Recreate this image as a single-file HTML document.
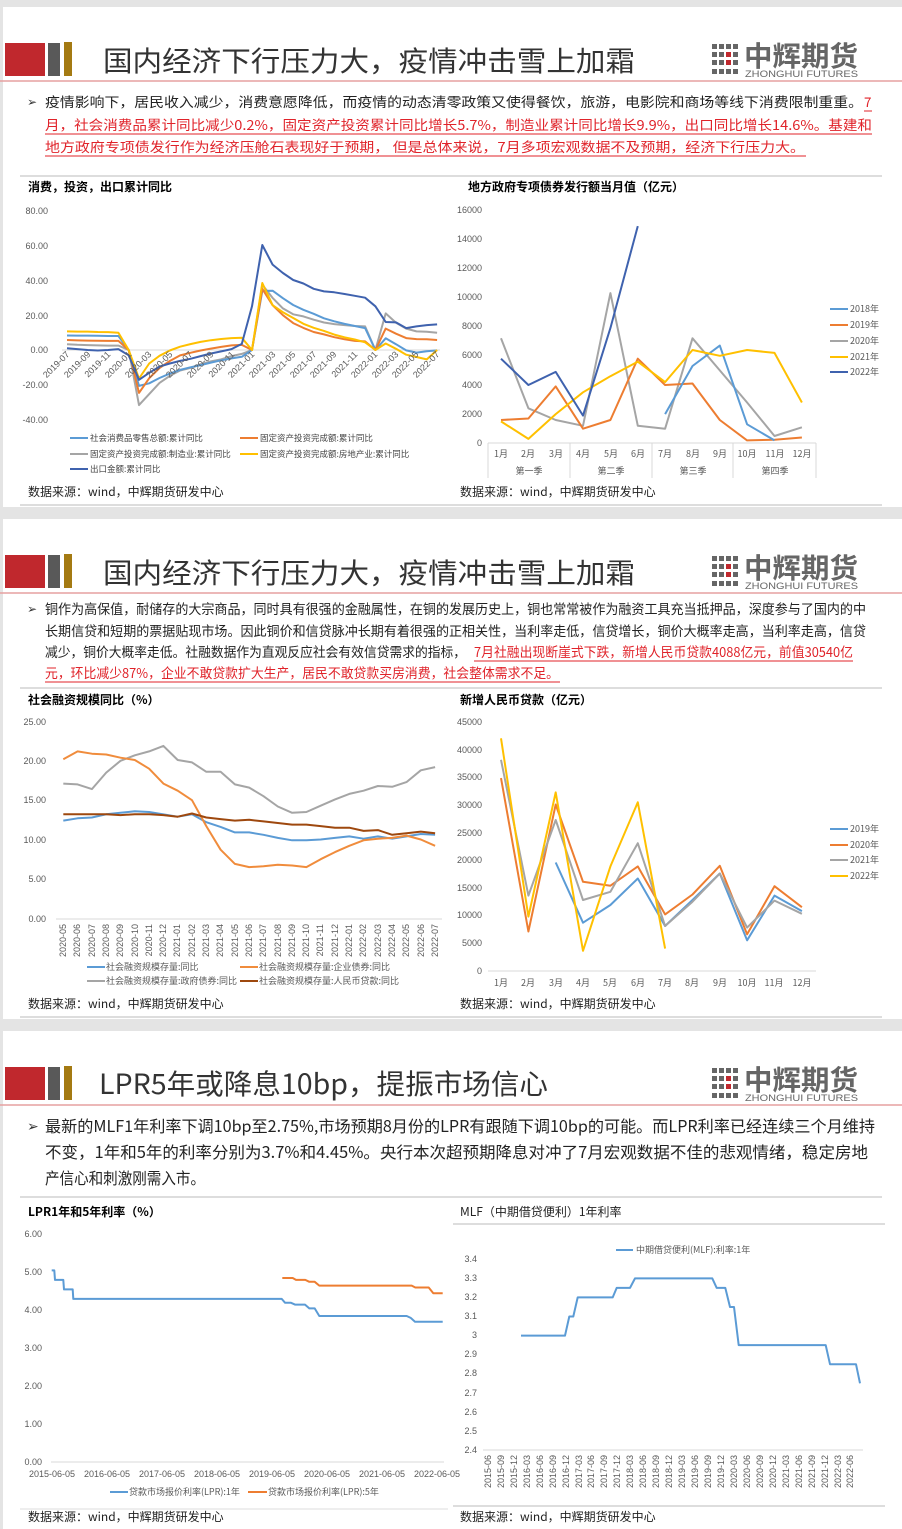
<!DOCTYPE html>
<html><head><meta charset="utf-8">
<style>
html,body{margin:0;padding:0;background:#e6e6e6;}
svg{display:block;}
text{font-family:"Liberation Sans","Noto Sans CJK SC",sans-serif;}
.cj{font-family:"Noto Sans CJK SC","WenQuanYi Zen Hei",sans-serif;}
.t{font-size:9px;fill:#595959;}
.ttl{font-size:12px;font-weight:bold;fill:#000;}
.src{font-size:12px;fill:#222;}
.bt{font-size:13.5px;fill:#222;}
.rd{fill:#e0232a;}
</style></head><body>
<svg id="s" width="902" height="1529" viewBox="0 0 902 1529" xmlns="http://www.w3.org/2000/svg">
<rect x="0" y="0" width="902" height="1529" fill="#e4e4e4"/>
<rect x="3" y="7" width="899" height="500" fill="#fff"/>
<rect x="3" y="519" width="899" height="500" fill="#fff"/>
<rect x="3" y="1031" width="899" height="498" fill="#fff"/>

<!-- headers -->
<g>
<rect x="5" y="43" width="40" height="33" fill="#c0282d"/>
<rect x="48" y="43" width="12" height="33" fill="#595959"/>
<rect x="64" y="42" width="8" height="34" fill="#a47a12"/>
<line x1="0" y1="81" x2="902" y2="81" stroke="#e6a0a0" stroke-width="1.5"/>
<rect x="712" y="44" width="5" height="5" fill="#666"/><rect x="719" y="44" width="5" height="5" fill="#666"/><rect x="726" y="44" width="5" height="5" fill="#666"/><rect x="733" y="44" width="5" height="5" fill="#666"/>
<rect x="712" y="52" width="5" height="5" fill="#666"/><rect x="719" y="52" width="5" height="5" fill="#666"/><rect x="726" y="52" width="5" height="5" fill="#c0282d"/><rect x="733" y="52" width="5" height="5" fill="#666"/>
<rect x="712" y="60" width="5" height="5" fill="#666"/><rect x="719" y="60" width="5" height="5" fill="#666"/><rect x="726" y="60" width="5" height="5" fill="#c0282d"/><rect x="733" y="60" width="5" height="5" fill="#666"/>
<rect x="712" y="69" width="5" height="5" fill="#666"/><rect x="719" y="69" width="5" height="5" fill="#666"/><rect x="726" y="69" width="5" height="5" fill="#666"/><rect x="733" y="69" width="5" height="5" fill="#666"/>
<text x="744" y="66" class="cj" font-size="28" font-weight="bold" fill="#666" textLength="114" lengthAdjust="spacingAndGlyphs">中辉期货</text>
<text x="745" y="77" font-size="9" fill="#666" textLength="113" lengthAdjust="spacingAndGlyphs">ZHONGHUI FUTURES</text>
</g>
<g transform="translate(0,512)">
<rect x="5" y="43" width="40" height="33" fill="#c0282d"/>
<rect x="48" y="43" width="12" height="33" fill="#595959"/>
<rect x="64" y="42" width="8" height="34" fill="#a47a12"/>
<line x1="0" y1="81" x2="902" y2="81" stroke="#e6a0a0" stroke-width="1.5"/>
<rect x="712" y="44" width="5" height="5" fill="#666"/><rect x="719" y="44" width="5" height="5" fill="#666"/><rect x="726" y="44" width="5" height="5" fill="#666"/><rect x="733" y="44" width="5" height="5" fill="#666"/>
<rect x="712" y="52" width="5" height="5" fill="#666"/><rect x="719" y="52" width="5" height="5" fill="#666"/><rect x="726" y="52" width="5" height="5" fill="#c0282d"/><rect x="733" y="52" width="5" height="5" fill="#666"/>
<rect x="712" y="60" width="5" height="5" fill="#666"/><rect x="719" y="60" width="5" height="5" fill="#666"/><rect x="726" y="60" width="5" height="5" fill="#c0282d"/><rect x="733" y="60" width="5" height="5" fill="#666"/>
<rect x="712" y="69" width="5" height="5" fill="#666"/><rect x="719" y="69" width="5" height="5" fill="#666"/><rect x="726" y="69" width="5" height="5" fill="#666"/><rect x="733" y="69" width="5" height="5" fill="#666"/>
<text x="744" y="66" class="cj" font-size="28" font-weight="bold" fill="#666" textLength="114" lengthAdjust="spacingAndGlyphs">中辉期货</text>
<text x="745" y="77" font-size="9" fill="#666" textLength="113" lengthAdjust="spacingAndGlyphs">ZHONGHUI FUTURES</text>
</g>
<g transform="translate(0,1024)">
<rect x="5" y="43" width="40" height="33" fill="#c0282d"/>
<rect x="48" y="43" width="12" height="33" fill="#595959"/>
<rect x="64" y="42" width="8" height="34" fill="#a47a12"/>
<line x1="0" y1="81" x2="902" y2="81" stroke="#e6a0a0" stroke-width="1.5"/>
<rect x="712" y="44" width="5" height="5" fill="#666"/><rect x="719" y="44" width="5" height="5" fill="#666"/><rect x="726" y="44" width="5" height="5" fill="#666"/><rect x="733" y="44" width="5" height="5" fill="#666"/>
<rect x="712" y="52" width="5" height="5" fill="#666"/><rect x="719" y="52" width="5" height="5" fill="#666"/><rect x="726" y="52" width="5" height="5" fill="#c0282d"/><rect x="733" y="52" width="5" height="5" fill="#666"/>
<rect x="712" y="60" width="5" height="5" fill="#666"/><rect x="719" y="60" width="5" height="5" fill="#666"/><rect x="726" y="60" width="5" height="5" fill="#c0282d"/><rect x="733" y="60" width="5" height="5" fill="#666"/>
<rect x="712" y="69" width="5" height="5" fill="#666"/><rect x="719" y="69" width="5" height="5" fill="#666"/><rect x="726" y="69" width="5" height="5" fill="#666"/><rect x="733" y="69" width="5" height="5" fill="#666"/>
<text x="744" y="66" class="cj" font-size="28" font-weight="bold" fill="#666" textLength="114" lengthAdjust="spacingAndGlyphs">中辉期货</text>
<text x="745" y="77" font-size="9" fill="#666" textLength="113" lengthAdjust="spacingAndGlyphs">ZHONGHUI FUTURES</text>
</g>

<text x="103" y="71" class="cj" font-size="28" fill="#333" textLength="532" lengthAdjust="spacingAndGlyphs">国内经济下行压力大，疫情冲击雪上加霜</text>
<text x="103" y="583" class="cj" font-size="28" fill="#333" textLength="532" lengthAdjust="spacingAndGlyphs">国内经济下行压力大，疫情冲击雪上加霜</text>
<text x="99" y="1094" class="cj" font-size="28" fill="#333" textLength="449" lengthAdjust="spacingAndGlyphs">LPR5年或降息10bp，提振市场信心</text>

<!-- slide 1 text -->
<text x="27" y="106" font-size="12" fill="#333">➢</text>
<text x="45" y="107" class="bt cj" textLength="818" lengthAdjust="spacingAndGlyphs">疫情影响下，居民收入减少，消费意愿降低，而疫情的动态清零政策又使得餐饮，旅游，电影院和商场等线下消费限制重重。</text>
<text x="864" y="107" class="bt cj rd">7</text>
<text x="45" y="130" class="bt cj rd" textLength="827" lengthAdjust="spacingAndGlyphs">月，社会消费品累计同比减少0.2%，固定资产投资累计同比增长5.7%，制造业累计同比增长9.9%，出口同比增长14.6%。基建和</text>
<text x="45" y="152" class="bt cj rd" textLength="760" lengthAdjust="spacingAndGlyphs">地方政府专项债发行作为经济压舱石表现好于预期， 但是总体来说，7月多项宏观数据不及预期，经济下行压力大。</text>
<line x1="864" y1="111" x2="872" y2="111" stroke="#e0232a"/>
<line x1="45" y1="134" x2="872" y2="134" stroke="#e0232a"/>
<line x1="45" y1="156" x2="806" y2="156" stroke="#e0232a"/>
<line x1="20" y1="176" x2="882" y2="176" stroke="#bbb"/>
<text x="28" y="191" class="ttl cj">消费，投资，出口累计同比</text>
<text x="468" y="191" class="ttl cj">地方政府专项债券发行额当月值（亿元）</text>
<text x="28" y="496" class="src cj">数据来源：wind，中辉期货研发中心</text>
<text x="460" y="496" class="src cj">数据来源：wind，中辉期货研发中心</text>
<line x1="20" y1="505" x2="882" y2="505" stroke="#bbb"/>

<!-- chart1 axes -->
<g>
<text x="48" y="214" text-anchor="end" class="t">80.00</text>
<text x="48" y="249" text-anchor="end" class="t">60.00</text>
<text x="48" y="284" text-anchor="end" class="t">40.00</text>
<text x="48" y="319" text-anchor="end" class="t">20.00</text>
<text x="48" y="353" text-anchor="end" class="t">0.00</text>
<text x="48" y="388" text-anchor="end" class="t">-20.00</text>
<text x="48" y="423" text-anchor="end" class="t">-40.00</text>
</g>
<line x1="62" y1="350" x2="440" y2="350" stroke="#d9d9d9"/>
<g>
<line x1="70" y1="438" x2="88" y2="438" stroke="#5B9BD5" stroke-width="2"/><text x="90" y="441" class="cj" font-size="8.5" fill="#444">社会消费品零售总额:累计同比</text>
<line x1="240" y1="438" x2="258" y2="438" stroke="#ED7D31" stroke-width="2"/><text x="260" y="441" class="cj" font-size="8.5" fill="#444">固定资产投资完成额:累计同比</text>
<line x1="70" y1="454" x2="88" y2="454" stroke="#A5A5A5" stroke-width="2"/><text x="90" y="457" class="cj" font-size="8.5" fill="#444">固定资产投资完成额:制造业:累计同比</text>
<line x1="240" y1="454" x2="258" y2="454" stroke="#FFC000" stroke-width="2"/><text x="260" y="457" class="cj" font-size="8.5" fill="#444">固定资产投资完成额:房地产业:累计同比</text>
<line x1="70" y1="469" x2="88" y2="469" stroke="#3F62AE" stroke-width="2"/><text x="90" y="472" class="cj" font-size="8.5" fill="#444">出口金额:累计同比</text>
</g>
<g id="c1"></g>

<!-- chart2 -->
<g>
<text x="482" y="213" text-anchor="end" class="t">16000</text>
<text x="482" y="242" text-anchor="end" class="t">14000</text>
<text x="482" y="271" text-anchor="end" class="t">12000</text>
<text x="482" y="300" text-anchor="end" class="t">10000</text>
<text x="482" y="329" text-anchor="end" class="t">8000</text>
<text x="482" y="358" text-anchor="end" class="t">6000</text>
<text x="482" y="388" text-anchor="end" class="t">4000</text>
<text x="482" y="417" text-anchor="end" class="t">2000</text>
<text x="482" y="446" text-anchor="end" class="t">0</text>
</g>
<line x1="488" y1="443" x2="816" y2="443" stroke="#d9d9d9"/>
<g stroke="#d9d9d9"><line x1="488" y1="443" x2="488" y2="478"/><line x1="570" y1="443" x2="570" y2="478"/><line x1="652" y1="443" x2="652" y2="478"/><line x1="733" y1="443" x2="733" y2="478"/><line x1="816" y1="443" x2="816" y2="478"/></g>
<g>
<text x="501" y="457" class="cj t" text-anchor="middle">1月</text><text x="528" y="457" class="cj t" text-anchor="middle">2月</text><text x="556" y="457" class="cj t" text-anchor="middle">3月</text>
<text x="583" y="457" class="cj t" text-anchor="middle">4月</text><text x="611" y="457" class="cj t" text-anchor="middle">5月</text><text x="638" y="457" class="cj t" text-anchor="middle">6月</text>
<text x="665" y="457" class="cj t" text-anchor="middle">7月</text><text x="693" y="457" class="cj t" text-anchor="middle">8月</text><text x="720" y="457" class="cj t" text-anchor="middle">9月</text>
<text x="747" y="457" class="cj t" text-anchor="middle">10月</text><text x="775" y="457" class="cj t" text-anchor="middle">11月</text><text x="802" y="457" class="cj t" text-anchor="middle">12月</text>
<text x="529" y="474" class="cj t" text-anchor="middle">第一季</text><text x="611" y="474" class="cj t" text-anchor="middle">第二季</text><text x="693" y="474" class="cj t" text-anchor="middle">第三季</text><text x="775" y="474" class="cj t" text-anchor="middle">第四季</text>
</g>
<g>
<line x1="830" y1="309" x2="848" y2="309" stroke="#5B9BD5" stroke-width="2"/><text x="850" y="312" class="cj t" font-size="8.5">2018年</text>
<line x1="830" y1="325" x2="848" y2="325" stroke="#ED7D31" stroke-width="2"/><text x="850" y="328" class="cj t" font-size="8.5">2019年</text>
<line x1="830" y1="341" x2="848" y2="341" stroke="#A5A5A5" stroke-width="2"/><text x="850" y="344" class="cj t" font-size="8.5">2020年</text>
<line x1="830" y1="357" x2="848" y2="357" stroke="#FFC000" stroke-width="2"/><text x="850" y="360" class="cj t" font-size="8.5">2021年</text>
<line x1="830" y1="372" x2="848" y2="372" stroke="#3F62AE" stroke-width="2"/><text x="850" y="375" class="cj t" font-size="8.5">2022年</text>
</g>
<g id="c2"></g>

<!-- slide 2 text -->
<text x="27" y="613" font-size="12" fill="#333">➢</text>
<text x="45" y="614" class="bt cj" textLength="821" lengthAdjust="spacingAndGlyphs">铜作为高保值，耐储存的大宗商品，同时具有很强的金融属性，在铜的发展历史上，铜也常常被作为融资工具充当抵押品，深度参与了国内的中</text>
<text x="45" y="636" class="bt cj" textLength="821" lengthAdjust="spacingAndGlyphs">长期信贷和短期的票据贴现市场。因此铜价和信贷脉冲长期有着很强的正相关性，当利率走低，信贷增长，铜价大概率走高，当利率走高，信贷</text>
<text x="45" y="657" class="bt cj" textLength="421" lengthAdjust="spacingAndGlyphs">减少，铜价大概率走低。社融数据作为直观反应社会有效信贷需求的指标，</text>
<text x="474" y="657" class="bt cj rd" textLength="379" lengthAdjust="spacingAndGlyphs">7月社融出现断崖式下跌，新增人民币贷款4088亿元，前值30540亿</text>
<text x="45" y="678" class="bt cj rd" textLength="514" lengthAdjust="spacingAndGlyphs">元，环比减少87%，企业不敢贷款扩大生产，居民不敢贷款买房消费，社会整体需求不足。</text>
<line x1="474" y1="661" x2="853" y2="661" stroke="#e0232a"/>
<line x1="45" y1="682" x2="560" y2="682" stroke="#e0232a"/>
<line x1="20" y1="688" x2="882" y2="688" stroke="#bbb"/>
<text x="28" y="704" class="ttl cj">社会融资规模同比（%）</text>
<text x="460" y="704" class="ttl cj">新增人民币贷款（亿元）</text>
<text x="28" y="1008" class="src cj">数据来源：wind，中辉期货研发中心</text>
<text x="460" y="1008" class="src cj">数据来源：wind，中辉期货研发中心</text>
<line x1="20" y1="1017" x2="882" y2="1017" stroke="#bbb"/>

<!-- chart3 -->
<g>
<text x="46" y="725" text-anchor="end" class="t">25.00</text>
<text x="46" y="764" text-anchor="end" class="t">20.00</text>
<text x="46" y="803" text-anchor="end" class="t">15.00</text>
<text x="46" y="843" text-anchor="end" class="t">10.00</text>
<text x="46" y="882" text-anchor="end" class="t">5.00</text>
<text x="46" y="922" text-anchor="end" class="t">0.00</text>
</g>
<line x1="56" y1="919" x2="442" y2="919" stroke="#d9d9d9"/>
<g>
<line x1="87" y1="967" x2="105" y2="967" stroke="#5B9BD5" stroke-width="2"/><text x="106" y="970" class="cj t" font-size="8.5">社会融资规模存量:同比</text>
<line x1="240" y1="967" x2="258" y2="967" stroke="#F08C3C" stroke-width="2"/><text x="259" y="970" class="cj t" font-size="8.5">社会融资规模存量:企业债券:同比</text>
<line x1="87" y1="981" x2="105" y2="981" stroke="#A5A5A5" stroke-width="2"/><text x="106" y="984" class="cj t" font-size="8.5">社会融资规模存量:政府债券:同比</text>
<line x1="240" y1="981" x2="258" y2="981" stroke="#9E480E" stroke-width="2"/><text x="259" y="984" class="cj t" font-size="8.5">社会融资规模存量:人民币贷款:同比</text>
</g>
<g id="c3"></g>

<!-- chart4 -->
<g>
<text x="482" y="725" text-anchor="end" class="t">45000</text>
<text x="482" y="753" text-anchor="end" class="t">40000</text>
<text x="482" y="780" text-anchor="end" class="t">35000</text>
<text x="482" y="808" text-anchor="end" class="t">30000</text>
<text x="482" y="836" text-anchor="end" class="t">25000</text>
<text x="482" y="863" text-anchor="end" class="t">20000</text>
<text x="482" y="891" text-anchor="end" class="t">15000</text>
<text x="482" y="918" text-anchor="end" class="t">10000</text>
<text x="482" y="946" text-anchor="end" class="t">5000</text>
<text x="482" y="974" text-anchor="end" class="t">0</text>
</g>
<line x1="488" y1="971" x2="816" y2="971" stroke="#d9d9d9"/>
<g>
<text x="501" y="986" class="cj t" text-anchor="middle">1月</text><text x="528" y="986" class="cj t" text-anchor="middle">2月</text><text x="556" y="986" class="cj t" text-anchor="middle">3月</text>
<text x="583" y="986" class="cj t" text-anchor="middle">4月</text><text x="610" y="986" class="cj t" text-anchor="middle">5月</text><text x="638" y="986" class="cj t" text-anchor="middle">6月</text>
<text x="665" y="986" class="cj t" text-anchor="middle">7月</text><text x="692" y="986" class="cj t" text-anchor="middle">8月</text><text x="720" y="986" class="cj t" text-anchor="middle">9月</text>
<text x="747" y="986" class="cj t" text-anchor="middle">10月</text><text x="774" y="986" class="cj t" text-anchor="middle">11月</text><text x="802" y="986" class="cj t" text-anchor="middle">12月</text>
</g>
<g>
<line x1="830" y1="829" x2="848" y2="829" stroke="#5B9BD5" stroke-width="2"/><text x="850" y="832" class="cj t" font-size="8.5">2019年</text>
<line x1="830" y1="845" x2="848" y2="845" stroke="#ED7D31" stroke-width="2"/><text x="850" y="848" class="cj t" font-size="8.5">2020年</text>
<line x1="830" y1="860" x2="848" y2="860" stroke="#A5A5A5" stroke-width="2"/><text x="850" y="863" class="cj t" font-size="8.5">2021年</text>
<line x1="830" y1="876" x2="848" y2="876" stroke="#FFC000" stroke-width="2"/><text x="850" y="879" class="cj t" font-size="8.5">2022年</text>
</g>
<g id="c4"></g>

<!-- slide 3 text -->
<text x="27" y="1131" font-size="14" fill="#333">➢</text>
<text x="45" y="1132" class="cj" font-size="16" fill="#222" textLength="830" lengthAdjust="spacingAndGlyphs">最新的MLF1年利率下调10bp至2.75%,市场预期8月份的LPR有跟随下调10bp的可能。而LPR利率已经连续三个月维持</text>
<text x="45" y="1158" class="cj" font-size="16" fill="#222" textLength="823" lengthAdjust="spacingAndGlyphs">不变，1年和5年的利率分别为3.7%和4.45%。央行本次超预期降息对冲了7月宏观数据不佳的悲观情绪，稳定房地</text>
<text x="45" y="1184" class="cj" font-size="16" fill="#222" textLength="160" lengthAdjust="spacingAndGlyphs">产信心和刺激刚需入市。</text>
<line x1="20" y1="1197" x2="882" y2="1197" stroke="#bbb"/>
<text x="28" y="1216" class="ttl cj">LPR1年和5年利率（%）</text>
<text x="460" y="1216" class="cj" font-size="12" fill="#222">MLF（中期借贷便利）1年利率</text>
<line x1="453" y1="1224" x2="885" y2="1224" stroke="#bbb"/>
<text x="28" y="1521" class="src cj">数据来源：wind，中辉期货研发中心</text>
<text x="460" y="1521" class="src cj">数据来源：wind，中辉期货研发中心</text>
<line x1="453" y1="1506" x2="885" y2="1506" stroke="#bbb"/>
<line x1="20" y1="1509" x2="448" y2="1509" stroke="#ddd"/>

<!-- chart5 -->
<g>
<text x="42" y="1237" text-anchor="end" class="t">6.00</text>
<text x="42" y="1275" text-anchor="end" class="t">5.00</text>
<text x="42" y="1313" text-anchor="end" class="t">4.00</text>
<text x="42" y="1351" text-anchor="end" class="t">3.00</text>
<text x="42" y="1389" text-anchor="end" class="t">2.00</text>
<text x="42" y="1427" text-anchor="end" class="t">1.00</text>
<text x="42" y="1465" text-anchor="end" class="t">0.00</text>
</g>
<line x1="51" y1="1462" x2="444" y2="1462" stroke="#d9d9d9"/>
<g>
<text x="52" y="1477" class="t" text-anchor="middle">2015-06-05</text>
<text x="107" y="1477" class="t" text-anchor="middle">2016-06-05</text>
<text x="162" y="1477" class="t" text-anchor="middle">2017-06-05</text>
<text x="217" y="1477" class="t" text-anchor="middle">2018-06-05</text>
<text x="272" y="1477" class="t" text-anchor="middle">2019-06-05</text>
<text x="327" y="1477" class="t" text-anchor="middle">2020-06-05</text>
<text x="382" y="1477" class="t" text-anchor="middle">2021-06-05</text>
<text x="437" y="1477" class="t" text-anchor="middle">2022-06-05</text>
</g>
<g>
<line x1="110" y1="1492" x2="128" y2="1492" stroke="#5B9BD5" stroke-width="2"/><text x="129" y="1495" class="cj t" font-size="8.5">贷款市场报价利率(LPR):1年</text>
<line x1="248" y1="1492" x2="267" y2="1492" stroke="#ED7D31" stroke-width="2"/><text x="268" y="1495" class="cj t" font-size="8.5">贷款市场报价利率(LPR):5年</text>
</g>
<g id="c5"></g>

<!-- chart6 -->
<g>
<text x="477" y="1262" text-anchor="end" class="t" font-size="8.5">3.4</text>
<text x="477" y="1281" text-anchor="end" class="t" font-size="8.5">3.3</text>
<text x="477" y="1300" text-anchor="end" class="t" font-size="8.5">3.2</text>
<text x="477" y="1319" text-anchor="end" class="t" font-size="8.5">3.1</text>
<text x="477" y="1338" text-anchor="end" class="t" font-size="8.5">3</text>
<text x="477" y="1357" text-anchor="end" class="t" font-size="8.5">2.9</text>
<text x="477" y="1376" text-anchor="end" class="t" font-size="8.5">2.8</text>
<text x="477" y="1396" text-anchor="end" class="t" font-size="8.5">2.7</text>
<text x="477" y="1415" text-anchor="end" class="t" font-size="8.5">2.6</text>
<text x="477" y="1434" text-anchor="end" class="t" font-size="8.5">2.5</text>
<text x="477" y="1453" text-anchor="end" class="t" font-size="8.5">2.4</text>
</g>
<line x1="483" y1="1450" x2="863" y2="1450" stroke="#d9d9d9"/>
<g>
<text transform="translate(491,1455) rotate(-90)" text-anchor="end" class="t" font-size="8">2015-06</text>
<text transform="translate(504,1455) rotate(-90)" text-anchor="end" class="t" font-size="8">2015-09</text>
<text transform="translate(517,1455) rotate(-90)" text-anchor="end" class="t" font-size="8">2015-12</text>
<text transform="translate(530,1455) rotate(-90)" text-anchor="end" class="t" font-size="8">2016-03</text>
<text transform="translate(543,1455) rotate(-90)" text-anchor="end" class="t" font-size="8">2016-06</text>
<text transform="translate(556,1455) rotate(-90)" text-anchor="end" class="t" font-size="8">2016-09</text>
<text transform="translate(569,1455) rotate(-90)" text-anchor="end" class="t" font-size="8">2016-12</text>
<text transform="translate(582,1455) rotate(-90)" text-anchor="end" class="t" font-size="8">2017-03</text>
<text transform="translate(594,1455) rotate(-90)" text-anchor="end" class="t" font-size="8">2017-06</text>
<text transform="translate(607,1455) rotate(-90)" text-anchor="end" class="t" font-size="8">2017-09</text>
<text transform="translate(620,1455) rotate(-90)" text-anchor="end" class="t" font-size="8">2017-12</text>
<text transform="translate(633,1455) rotate(-90)" text-anchor="end" class="t" font-size="8">2018-03</text>
<text transform="translate(646,1455) rotate(-90)" text-anchor="end" class="t" font-size="8">2018-06</text>
<text transform="translate(659,1455) rotate(-90)" text-anchor="end" class="t" font-size="8">2018-09</text>
<text transform="translate(672,1455) rotate(-90)" text-anchor="end" class="t" font-size="8">2018-12</text>
<text transform="translate(685,1455) rotate(-90)" text-anchor="end" class="t" font-size="8">2019-03</text>
<text transform="translate(698,1455) rotate(-90)" text-anchor="end" class="t" font-size="8">2019-06</text>
<text transform="translate(711,1455) rotate(-90)" text-anchor="end" class="t" font-size="8">2019-09</text>
<text transform="translate(724,1455) rotate(-90)" text-anchor="end" class="t" font-size="8">2019-12</text>
<text transform="translate(737,1455) rotate(-90)" text-anchor="end" class="t" font-size="8">2020-03</text>
<text transform="translate(750,1455) rotate(-90)" text-anchor="end" class="t" font-size="8">2020-06</text>
<text transform="translate(763,1455) rotate(-90)" text-anchor="end" class="t" font-size="8">2020-09</text>
<text transform="translate(776,1455) rotate(-90)" text-anchor="end" class="t" font-size="8">2020-12</text>
<text transform="translate(789,1455) rotate(-90)" text-anchor="end" class="t" font-size="8">2021-03</text>
<text transform="translate(802,1455) rotate(-90)" text-anchor="end" class="t" font-size="8">2021-06</text>
<text transform="translate(815,1455) rotate(-90)" text-anchor="end" class="t" font-size="8">2021-09</text>
<text transform="translate(828,1455) rotate(-90)" text-anchor="end" class="t" font-size="8">2021-12</text>
<text transform="translate(841,1455) rotate(-90)" text-anchor="end" class="t" font-size="8">2022-03</text>
<text transform="translate(853,1455) rotate(-90)" text-anchor="end" class="t" font-size="8">2022-06</text>
</g>
<line x1="616" y1="1250" x2="633" y2="1250" stroke="#5B9BD5" stroke-width="2"/><text x="636" y="1253" class="cj t" font-size="8.5">中期借贷便利(MLF):利率:1年</text>
<g id="c6"></g>

<!-- chart1 x labels -->
<g>
<text transform="translate(70,355) rotate(-45)" text-anchor="end" class="t" font-size="8.5">2019-07</text>
<text transform="translate(91,355) rotate(-45)" text-anchor="end" class="t" font-size="8.5">2019-09</text>
<text transform="translate(111,355) rotate(-45)" text-anchor="end" class="t" font-size="8.5">2019-11</text>
<text transform="translate(132,355) rotate(-45)" text-anchor="end" class="t" font-size="8.5">2020-01</text>
<text transform="translate(152,355) rotate(-45)" text-anchor="end" class="t" font-size="8.5">2020-03</text>
<text transform="translate(173,355) rotate(-45)" text-anchor="end" class="t" font-size="8.5">2020-05</text>
<text transform="translate(193,355) rotate(-45)" text-anchor="end" class="t" font-size="8.5">2020-07</text>
<text transform="translate(214,355) rotate(-45)" text-anchor="end" class="t" font-size="8.5">2020-09</text>
<text transform="translate(235,355) rotate(-45)" text-anchor="end" class="t" font-size="8.5">2020-11</text>
<text transform="translate(255,355) rotate(-45)" text-anchor="end" class="t" font-size="8.5">2021-01</text>
<text transform="translate(276,355) rotate(-45)" text-anchor="end" class="t" font-size="8.5">2021-03</text>
<text transform="translate(296,355) rotate(-45)" text-anchor="end" class="t" font-size="8.5">2021-05</text>
<text transform="translate(317,355) rotate(-45)" text-anchor="end" class="t" font-size="8.5">2021-07</text>
<text transform="translate(337,355) rotate(-45)" text-anchor="end" class="t" font-size="8.5">2021-09</text>
<text transform="translate(358,355) rotate(-45)" text-anchor="end" class="t" font-size="8.5">2021-11</text>
<text transform="translate(378,355) rotate(-45)" text-anchor="end" class="t" font-size="8.5">2022-01</text>
<text transform="translate(399,355) rotate(-45)" text-anchor="end" class="t" font-size="8.5">2022-03</text>
<text transform="translate(419,355) rotate(-45)" text-anchor="end" class="t" font-size="8.5">2022-05</text>
<text transform="translate(440,355) rotate(-45)" text-anchor="end" class="t" font-size="8.5">2022-07</text>
</g>
<!-- chart3 x labels -->
<g>
<text transform="translate(66,924) rotate(-90)" text-anchor="end" class="t" font-size="8">2020-05</text>
<text transform="translate(80,924) rotate(-90)" text-anchor="end" class="t" font-size="8">2020-06</text>
<text transform="translate(95,924) rotate(-90)" text-anchor="end" class="t" font-size="8">2020-07</text>
<text transform="translate(109,924) rotate(-90)" text-anchor="end" class="t" font-size="8">2020-08</text>
<text transform="translate(123,924) rotate(-90)" text-anchor="end" class="t" font-size="8">2020-09</text>
<text transform="translate(138,924) rotate(-90)" text-anchor="end" class="t" font-size="8">2020-10</text>
<text transform="translate(152,924) rotate(-90)" text-anchor="end" class="t" font-size="8">2020-11</text>
<text transform="translate(166,924) rotate(-90)" text-anchor="end" class="t" font-size="8">2020-12</text>
<text transform="translate(180,924) rotate(-90)" text-anchor="end" class="t" font-size="8">2021-01</text>
<text transform="translate(195,924) rotate(-90)" text-anchor="end" class="t" font-size="8">2021-02</text>
<text transform="translate(209,924) rotate(-90)" text-anchor="end" class="t" font-size="8">2021-03</text>
<text transform="translate(223,924) rotate(-90)" text-anchor="end" class="t" font-size="8">2021-04</text>
<text transform="translate(238,924) rotate(-90)" text-anchor="end" class="t" font-size="8">2021-05</text>
<text transform="translate(252,924) rotate(-90)" text-anchor="end" class="t" font-size="8">2021-06</text>
<text transform="translate(266,924) rotate(-90)" text-anchor="end" class="t" font-size="8">2021-07</text>
<text transform="translate(281,924) rotate(-90)" text-anchor="end" class="t" font-size="8">2021-08</text>
<text transform="translate(295,924) rotate(-90)" text-anchor="end" class="t" font-size="8">2021-09</text>
<text transform="translate(309,924) rotate(-90)" text-anchor="end" class="t" font-size="8">2021-10</text>
<text transform="translate(323,924) rotate(-90)" text-anchor="end" class="t" font-size="8">2021-11</text>
<text transform="translate(338,924) rotate(-90)" text-anchor="end" class="t" font-size="8">2021-12</text>
<text transform="translate(352,924) rotate(-90)" text-anchor="end" class="t" font-size="8">2022-01</text>
<text transform="translate(366,924) rotate(-90)" text-anchor="end" class="t" font-size="8">2022-02</text>
<text transform="translate(381,924) rotate(-90)" text-anchor="end" class="t" font-size="8">2022-03</text>
<text transform="translate(395,924) rotate(-90)" text-anchor="end" class="t" font-size="8">2022-04</text>
<text transform="translate(409,924) rotate(-90)" text-anchor="end" class="t" font-size="8">2022-05</text>
<text transform="translate(424,924) rotate(-90)" text-anchor="end" class="t" font-size="8">2022-06</text>
<text transform="translate(438,924) rotate(-90)" text-anchor="end" class="t" font-size="8">2022-07</text>
</g>
</svg>
<script>
(function(){
var NS="http://www.w3.org/2000/svg";
function pl(id,pts,col,w){var g=document.getElementById(id);var p=document.createElementNS(NS,"polyline");
p.setAttribute("points",pts.map(function(a){return a[0].toFixed(1)+","+a[1].toFixed(1)}).join(" "));
p.setAttribute("fill","none");p.setAttribute("stroke",col);p.setAttribute("stroke-width",w||2);p.setAttribute("stroke-linejoin","round");g.appendChild(p);}
function ser(id,arr,fx,fy,col,off,w){var pts=[];arr.forEach(function(v,i){if(v!==null)pts.push([fx(i+(off||0)),fy(v)]);});pl(id,pts,col,w);}
var x1=function(i){return 67+10.28*i},y1=function(v){return 350-1.75*v};
ser("c1",[3.3,3,2.8,2.6,2.5,2.5,0,-31.5,-25.2,-18.8,-14.8,-11.7,-10.2,-8.1,-6.5,-5.3,-3.5,-2.2,0,37.3,29.8,23.8,20.4,19.2,17.3,15.7,14.8,14.2,13.7,13.5,0,20.9,15.6,12.2,10.6,10.4,9.9],x1,y1,"#A5A5A5");
ser("c1",[8.3,8.2,8.2,8.1,8,8,0,-20.5,-19,-16,-13.5,-11.4,-9.9,-8.6,-7.2,-5.9,-4.8,-3.9,0,33.8,33.9,29.6,25.7,23,20.7,18.1,16.4,14.9,13.7,12.5,0,6.7,3.3,-0.2,-1.5,-0.7,-0.2],x1,y1,"#5B9BD5");
ser("c1",[5.7,5.5,5.4,5.3,5.2,5.2,0,-24.5,-16.1,-10.3,-6.3,-3.1,-1.6,-0.3,0.8,1.8,2.6,2.9,0,35,25.6,19.9,15.4,12.6,10.3,8.9,7.3,6.1,5.2,4.9,0,12.2,9.3,6.8,6.2,6.1,5.7],x1,y1,"#ED7D31");
ser("c1",[10.6,10.5,10.5,10.3,10.2,9.9,0,-16.3,-7.7,-3.3,-0.3,1.9,3.4,4.6,5.6,6.3,6.8,7,0,38.3,25.6,21.6,18.3,15,12.7,10.9,8.8,7.2,6,4.4,0,3.7,0.7,-2.7,-4,-5.4,0],x1,y1,"#FFC000");
ser("c1",[1,0.5,0,-0.3,0,0.5,-3,-17,-13,-9.5,-7.7,-6.2,-5,-3.5,-2,-0.8,0.5,3.5,25,60,48.8,44,40,38,35,33.5,33,32,31,29.9,25,16,15.8,12.5,13.5,14.2,14.6],x1,y1,"#3F62AE");
var x2=function(i){return 501+27.35*i},y2=function(v){return 443.3-v*0.01458};
ser("c2",[7200,2400,1600,1200,10300,1200,1000,7200,5000,2800,500,1100],x2,y2,"#A5A5A5");
ser("c2",[1600,1700,3900,1000,1600,5800,4000,4100,1600,200,250,400],x2,y2,"#ED7D31");
ser("c2",[2000,5300,6700,1300,200],x2,y2,"#5B9BD5",6);
ser("c2",[1500,300,2000,3500,4600,5600,4200,6400,6000,6400,6200,2800],x2,y2,"#FFC000");
ser("c2",[5800,4000,4900,1900,7900,14900],x2,y2,"#3F62AE");
var x3=function(i){return 63.3+14.3*i},y3=function(v){return 919-7.87*v};
ser("c3",[17.2,17.1,16.5,18.6,20.1,20.8,21.3,22.0,20.2,19.9,18.7,18.7,17.1,16.7,15.6,14.3,13.5,13.6,14.4,15.2,15.9,16.3,16.9,16.8,17.4,18.9,19.3],x3,y3,"#A5A5A5");
ser("c3",[12.5,12.8,12.9,13.3,13.5,13.7,13.6,13.3,13.0,13.3,12.3,11.7,11.0,11.0,10.7,10.3,10.0,10.0,10.1,10.3,10.5,10.2,10.5,10.2,10.5,10.8,10.7],x3,y3,"#5B9BD5");
ser("c3",[20.3,21.3,21.0,20.9,20.5,20.2,19.1,17.2,16.3,15.1,11.8,8.8,7.0,6.6,6.7,6.9,6.8,6.6,7.6,8.5,9.3,10.0,10.2,10.3,10.6,10.1,9.3],x3,y3,"#F08C3C");
ser("c3",[13.3,13.3,13.3,13.3,13.2,13.3,13.3,13.2,13.0,13.4,12.9,12.7,12.5,12.6,12.4,12.2,12.0,12.0,11.8,11.6,11.6,11.2,11.3,10.7,10.9,11.1,10.9],x3,y3,"#9E480E");
var x4=function(i){return 501+27.35*i},y4=function(v){return 970.7-v*0.00552};
ser("c4",[19600,8700,11900,16700,8100,12800,17600,5500,13600,10800],x4,y4,"#5B9BD5",2);
ser("c4",[34900,7100,30100,16100,15400,18900,10200,13800,19000,6600,15300,11500],x4,y4,"#ED7D31");
ser("c4",[38200,13600,27300,12800,14300,23100,8100,12500,17600,7800,12700,10300],x4,y4,"#A5A5A5");
ser("c4",[42100,9800,32300,3600,18900,30500,4000],x4,y4,"#FFC000");
var zx=function(z){return 20+z/3},y5=function(v){return 1462.3-38*v};
function stp(id,a,col){pl(id,a.map(function(p){return [zx(p[0]),y5(p[1])]}),col);}
stp("c5",[[95,5.05],[103,5.05],[105,4.8],[130,4.8],[132,4.55],[158,4.55],[160,4.3],[785,4.3],[795,4.2],[812,4.2],[825,4.15],[855,4.15],[868,4.05],[884,4.05],[898,3.85],[1160,3.85],[1172,3.8],[1185,3.7],[1268,3.7]],"#5B9BD5");
stp("c5",[[787,4.85],[818,4.85],[828,4.8],[856,4.8],[868,4.75],[884,4.75],[898,4.65],[1175,4.65],[1186,4.6],[1226,4.6],[1240,4.45],[1268,4.45]],"#ED7D31");
var y6=function(v){return 1450-(v-2.4)*190.7};
pl("c6",[[213,3],[345,3],[358,3.1],[370,3.1],[383,3.2],[488,3.2],[500,3.25],[540,3.25],[555,3.3],[787,3.3],[800,3.25],[826,3.25],[840,3.15],[852,3.15],[866,2.95],[1127,2.95],[1140,2.85],[1218,2.85],[1230,2.75]].map(function(p){return [450+p[0]/3,y6(p[1])]}),"#5B9BD5");
})();
</script>
</body></html>
